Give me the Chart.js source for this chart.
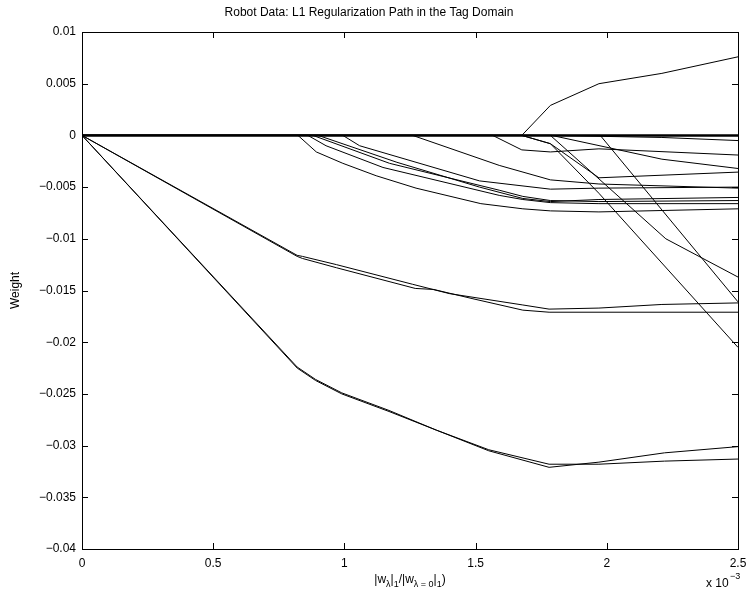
<!DOCTYPE html>
<html>
<head>
<meta charset="utf-8">
<script src="https://cdn.jsdelivr.net/npm/chart.js@4/dist/chart.umd.min.js"></script>
<style>
  html, body { margin: 0; padding: 0; background: #fff; }
  #wrap { width: 749px; height: 594px; position: relative; }
</style>
</head>
<body>
<div id="wrap"><canvas id="myChart" width="749" height="594"></canvas></div>
<script>
// x values are in units of 1e-3 (axis shows "x 10^-3")
var xTicks = [0, 0.5, 1, 1.5, 2, 2.5];
var yTicks = [0.01, 0.005, 0, -0.005, -0.01, -0.015, -0.02, -0.025, -0.03, -0.035, -0.04];

// coefficient paths, [x, weight]
var zeroPath = [[0, 0], [2.5, 0]];
var pathA1 = [[0, 0], [0.82, -0.0225], [0.89, -0.0237], [0.99, -0.0250], [1.17, -0.0267], [1.35, -0.0285], [1.55, -0.0304], [1.78, -0.0318], [1.97, -0.0318], [2.22, -0.0315], [2.5, -0.0313]];
var pathA2 = [[0, 0], [0.82, -0.0224], [0.89, -0.0236], [0.99, -0.0249], [1.17, -0.0266], [1.35, -0.0285], [1.55, -0.0305], [1.78, -0.0321], [1.97, -0.0316], [2.22, -0.0307], [2.5, -0.0301]];
var pathB1 = [[0, 0], [0.82, -0.0116], [0.84, -0.0117], [0.97, -0.0125], [1.26, -0.0144], [1.40, -0.0153], [1.68, -0.0164], [1.78, -0.0168], [1.97, -0.0167], [2.21, -0.01635], [2.5, -0.0162]];
var pathB2 = [[0, 0], [0.82, -0.0117], [0.84, -0.0119], [0.97, -0.0128], [1.27, -0.0148], [1.34, -0.0149], [1.49, -0.0158], [1.68, -0.0169], [1.78, -0.0171], [2.5, -0.0171]];
var pathP = [[0, 0], [1.676, 0], [1.785, 0.0029], [1.97, 0.0050], [2.21, 0.0060], [2.5, 0.0076]];
var pathD1 = [[0, 0], [1.975, 0], [2.5, -0.0161]];
var pathD2 = [[0, 0], [1.676, 0], [1.785, -0.0008], [1.97, -0.0056], [2.5, -0.0205]];
var pathD3 = [[0, 0], [1.785, 0], [2.225, -0.0100], [2.5, -0.0137]];
var pathLa = [[0, 0], [1.565, 0], [1.676, -0.0014], [1.785, -0.0016], [1.97, -0.0013], [2.5, -0.0019]];
var pathLb = [[0, 0], [1.79, 0], [2.21, -0.0023], [2.5, -0.0032]];
var pathLc = [[0, 0], [1.785, 0], [2.21, -0.0002], [2.5, -0.0005]];
var pathLd = [[0, 0], [1.676, 0], [1.785, -0.0008], [1.97, -0.0041], [2.5, -0.00355]];
var pathE1 = [[0, 0], [0.823, 0], [0.893, -0.0016], [0.994, -0.0027], [1.121, -0.0039], [1.273, -0.0051], [1.52, -0.0066], [1.68, -0.0071], [1.785, -0.0073], [1.97, -0.0074], [2.5, -0.0071]];
var pathE2 = [[0, 0], [0.861, 0], [0.93, -0.0010], [1.147, -0.0031], [1.59, -0.0058], [1.68, -0.0062], [1.785, -0.0065], [1.97, -0.0066], [2.5, -0.0066]];
var pathE3 = [[0, 0], [0.88, 0], [1.172, -0.0027], [1.59, -0.0053], [1.68, -0.0059], [1.785, -0.0063], [1.97, -0.0064], [2.5, -0.0063]];
var pathE4 = [[0, 0], [0.90, 0], [1.2, -0.0026], [1.515, -0.0050], [1.68, -0.0061], [1.785, -0.0064], [1.97, -0.0062], [2.5, -0.0060]];
var pathE5 = [[0, 0], [0.994, 0], [1.058, -0.0010], [1.515, -0.0044], [1.785, -0.0052], [1.97, -0.0051], [2.5, -0.0050]];
var pathE6 = [[0, 0], [1.26, 0], [1.59, -0.0029], [1.785, -0.0043], [1.97, -0.0047], [2.5, -0.0051]];

var paths = [pathA1, pathA2, pathB1, pathB2, pathP, pathD1, pathD2, pathD3,
  pathLa, pathLb, pathLc, pathLd, pathE1, pathE2, pathE3, pathE4, pathE5, pathE6];

var FONT = "'Liberation Sans', Arial, Helvetica, sans-serif";

function fmt(v) {
  var s = String(Number(v.toFixed(4)));
  return s.replace('-', '\u2212');
}

// box around the axes plus inward tick marks, like matlab
var frame = {
  id: 'frame',
  afterDraw: function(chart) {
    var ctx = chart.ctx, a = chart.chartArea;
    var xs = chart.scales.x, ys = chart.scales.y;
    var L = 6;
    ctx.save();
    ctx.strokeStyle = '#000';
    ctx.lineWidth = 1;
    ctx.strokeRect(Math.round(a.left) + 0.5, Math.round(a.top) + 0.5,
      Math.round(a.right - a.left), Math.round(a.bottom - a.top));
    ctx.beginPath();
    xTicks.forEach(function(t) {
      var px = Math.round(xs.getPixelForValue(t)) + 0.5;
      ctx.moveTo(px, a.bottom); ctx.lineTo(px, a.bottom - L);
      ctx.moveTo(px, a.top); ctx.lineTo(px, a.top + L);
    });
    yTicks.forEach(function(t) {
      var py = Math.round(ys.getPixelForValue(t)) + 0.5;
      ctx.moveTo(a.left, py); ctx.lineTo(a.left + L, py);
      ctx.moveTo(a.right, py); ctx.lineTo(a.right - L, py);
    });
    ctx.stroke();

    // x label with subscripts
    ctx.fillStyle = '#000';
    ctx.textBaseline = 'alphabetic';
    var parts = [['|w', 12, 0], ['\u03bb', 9, 4], ['|', 12, 0], ['1', 9, 4], ['/|w', 12, 0],
      ['\u03bb = 0', 9, 4], ['|', 12, 0], ['1', 9, 4], [')', 12, 0]];
    var total = 0;
    parts.forEach(function(p) { ctx.font = p[1] + 'px ' + FONT; total += ctx.measureText(p[0]).width; });
    var cx = (a.left + a.right) / 2 - total / 2, base = 583;
    parts.forEach(function(p) {
      ctx.font = p[1] + 'px ' + FONT;
      ctx.fillText(p[0], cx, base + p[2]);
      cx += ctx.measureText(p[0]).width;
    });

    // exponent note
    ctx.font = '12px ' + FONT;
    ctx.fillText('x 10', 706, 587);
    ctx.font = '9px ' + FONT;
    ctx.fillText('\u22123', 730, 579);
    ctx.restore();
  }
};

var datasets = paths.map(function(p) {
  return {
    data: p.map(function(q) { return { x: q[0], y: q[1] }; }),
    borderColor: '#000',
    borderWidth: 1,
    pointRadius: 0,
    tension: 0,
    fill: false
  };
});
// the many weights that stay at zero make a heavy line
datasets.push({
  data: zeroPath.map(function(q) { return { x: q[0], y: q[1] }; }),
  borderColor: '#000',
  borderWidth: 2.5,
  pointRadius: 0,
  tension: 0,
  fill: false
});

var ctx = document.getElementById('myChart').getContext('2d');
var myChart = new Chart(ctx, {
  type: 'line',
  data: { datasets: datasets },
  options: {
    responsive: false,
    animation: false,
    events: [],
    layout: { padding: { left: 0, right: 11, top: 0, bottom: 0 } },
    plugins: {
      legend: { display: false },
      tooltip: { enabled: false },
      title: {
        display: true,
        text: 'Robot Data: L1 Regularization Path in the Tag Domain',
        color: '#000',
        font: { family: FONT, size: 12, weight: 'normal' },
        padding: { top: 5, bottom: 12.6 }
      }
    },
    scales: {
      x: {
        type: 'linear',
        min: 0, max: 2.5,
        afterBuildTicks: function(s) { s.ticks = xTicks.map(function(v) { return { value: v }; }); },
        afterFit: function(s) { s.height = 45; s.paddingRight = 0; s.paddingLeft = 0; },
        grid: { display: false, drawTicks: false },
        border: { display: false },
        ticks: {
          color: '#000', padding: 7, maxRotation: 0,
          font: { family: FONT, size: 12 },
          callback: function(v) { return fmt(v); }
        }
      },
      y: {
        type: 'linear',
        min: -0.04, max: 0.01,
        afterBuildTicks: function(s) { s.ticks = yTicks.map(function(v) { return { value: v }; }); },
        afterFit: function(s) { s.width = 82; },
        grid: { display: false, drawTicks: false },
        border: { display: false },
        title: {
          display: true, text: 'Weight', color: '#000',
          font: { family: FONT, size: 12 },
          padding: { top: 8, bottom: 0 }
        },
        ticks: {
          color: '#000', padding: 6,
          font: { family: FONT, size: 12 },
          callback: function(v) { return fmt(v); }
        }
      }
    }
  },
  plugins: [frame]
});
</script>
</body>
</html>
